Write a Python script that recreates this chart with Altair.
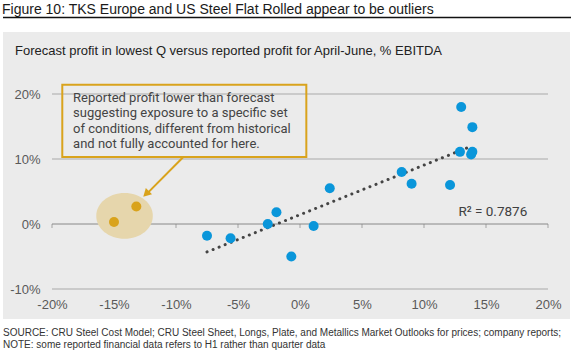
import altair as alt
import pandas as pd

# ---- data (percent units) ----
blue_x = [-7.5, -5.6, -2.6, -1.9, -0.7, 1.1, 2.4, 8.2, 9.0, 12.1, 12.9, 13.0, 13.8, 13.9, 13.9]
blue_y = [-1.8, -2.2, 0.0, 1.8, -5.0, -0.3, 5.5, 8.0, 6.2, 6.0, 11.1, 18.0, 10.7, 11.1, 14.9]
gold_x = [-15.0, -13.2]
gold_y = [0.3, 2.7]
x_ticks = [-20, -15, -10, -5, 0, 5, 10, 15, 20]
y_ticks = [-10, 0, 10, 20]
grid_y = [-10, 10, 20]

title = "Figure 10: TKS Europe and US Steel Flat Rolled appear to be outliers"
subtitle = "Forecast profit in lowest Q versus reported profit for April-June, % EBITDA"
source_lines = [
    "SOURCE: CRU Steel Cost Model; CRU Steel Sheet, Longs, Plate, and Metallics Market Outlooks for prices; company reports;",
    "NOTE: some reported financial data refers to H1 rather than quarter data",
]
note_lines = [
    "Reported profit lower than forecast",
    "suggesting exposure to a specific set",
    "of conditions, different from historical",
    "and not fully accounted for here.",
]
r2_text = "R\u00b2 = 0.7876"

BLUE = "#0A96DA"
GOLD = "#D9A31C"
ELLIPSE = "#E6D6AC"
GRID = "#A9A9A9"

W, H = 496, 195
one = pd.DataFrame({"a": [0]})
blue = pd.DataFrame({"x": blue_x, "y": blue_y})
gold = pd.DataFrame({"x": gold_x, "y": gold_y})

xs = alt.Scale(domain=[-20, 20], nice=False, zero=False)
ys = alt.Scale(domain=[-10, 20], nice=False, zero=False)

# background panel
panel = alt.Chart(one).mark_rect(color="#EBEBEB").encode(
    x=alt.value(-49), x2=alt.value(518), y=alt.value(-62), y2=alt.value(225)
)

# header/footer texts
title_t = alt.Chart(one).mark_text(
    text=title, align="left", baseline="alphabetic", font="Liberation Sans",
    fontSize=14, color="#1A1A1A"
).encode(x=alt.value(-50), y=alt.value(-80.5))
underline = alt.Chart(one).mark_rule(color="#111111", strokeWidth=1.5).encode(
    x=alt.value(-49), x2=alt.value(519), y=alt.value(-76.5)
)
subtitle_t = alt.Chart(one).mark_text(
    text=subtitle, align="left", baseline="alphabetic", font="Liberation Sans",
    fontSize=13, color="#222222"
).encode(x=alt.value(-37), y=alt.value(-39))
src1 = alt.Chart(one).mark_text(
    text=source_lines[0], align="left", baseline="alphabetic", font="Liberation Sans",
    fontSize=10, color="#333333"
).encode(x=alt.value(-49), y=alt.value(241.5))
src2 = alt.Chart(one).mark_text(
    text=source_lines[1], align="left", baseline="alphabetic", font="Liberation Sans",
    fontSize=10, color="#333333"
).encode(x=alt.value(-49), y=alt.value(253.5))

# axes (labels only), drawn above the panel
axes = alt.Chart(one).mark_point(opacity=0).encode(
    x=alt.X("xx:Q", scale=xs, title=None,
            axis=alt.Axis(values=x_ticks, labelExpr="datum.value + '%'", domain=False,
                          ticks=False, grid=False, labelFont="Liberation Sans",
                          labelFontSize=13, labelColor="#595959", labelPadding=9,
                          labelFlush=False, labelOverlap=False, zindex=1)),
    y=alt.Y("yy:Q", scale=ys, title=None,
            axis=alt.Axis(values=y_ticks, labelExpr="datum.value + '%'", domain=False,
                          ticks=False, grid=False, labelFont="Liberation Sans",
                          labelFontSize=13, labelColor="#595959", labelPadding=12,
                          labelFlush=False, labelOverlap=False, zindex=1)),
).transform_calculate(xx="0", yy="0")

# gridlines
grid = alt.Chart(pd.DataFrame({"y": grid_y})).mark_rule(color=GRID, strokeWidth=1).encode(
    y=alt.Y("y:Q", scale=ys), x=alt.datum(-20, scale=xs), x2=alt.datum(20)
)
zero = alt.Chart(one).mark_rule(color="#888888", strokeWidth=1).encode(
    y=alt.datum(0, scale=ys), x=alt.datum(-20, scale=xs), x2=alt.datum(20)
)
ticks = alt.Chart(pd.DataFrame({"x": x_ticks})).mark_tick(
    orient="vertical", size=4, thickness=1, yOffset=2, color="#888888"
).encode(x=alt.X("x:Q", scale=xs), y=alt.datum(0, scale=ys))

# ellipse around outliers
ellipse = alt.Chart(one).mark_point(
    shape="M-1,0 A1,0.806 0 1,0 1,0 A1,0.806 0 1,0 -1,0 Z",
    filled=True, color=ELLIPSE, opacity=1, size=3204
).encode(x=alt.datum(-14.15, scale=xs), y=alt.datum(1.25, scale=ys))

# trend line
trend = alt.Chart(blue).transform_regression("x", "y").mark_line(
    color="#444444", strokeWidth=3, strokeDash=[0.1, 6.4], strokeCap="round"
).encode(x=alt.X("x:Q", scale=xs), y=alt.Y("y:Q", scale=ys))

blue_pts = alt.Chart(blue).mark_circle(color=BLUE, opacity=1, size=100).encode(
    x=alt.X("x:Q", scale=xs), y=alt.Y("y:Q", scale=ys)
)
gold_pts = alt.Chart(gold).mark_circle(color=GOLD, opacity=1, size=100).encode(
    x=alt.X("x:Q", scale=xs), y=alt.Y("y:Q", scale=ys)
)

# annotation box, text, arrow
box = alt.Chart(one).mark_rect(
    fillOpacity=0, stroke=GOLD, strokeWidth=2
).encode(
    x=alt.datum(-19.17, scale=xs), x2=alt.datum(0.51),
    y=alt.datum(21.43, scale=ys), y2=alt.datum(10.31)
)
note = alt.Chart(one).mark_text(
    text=note_lines, align="left", baseline="middle", font="Roboto",
    fontSize=13, lineHeight=15.3, color="#444444"
).encode(x=alt.datum(-18.3, scale=xs), y=alt.datum(19.38, scale=ys))
arrow_line = alt.Chart(one).mark_rule(color=GOLD, strokeWidth=2).encode(
    x=alt.datum(-9.41, scale=xs), x2=alt.datum(-12.3),
    y=alt.datum(10.3, scale=ys), y2=alt.datum(4.75)
)
arrow_head = alt.Chart(one).mark_point(
    shape="M0,0 L-0.55,1 L0.55,1 Z", filled=True, color=GOLD, opacity=1,
    size=256, angle=225
).encode(x=alt.datum(-12.64, scale=xs), y=alt.datum(4.2, scale=ys))

r2 = alt.Chart(one).mark_text(
    text=r2_text, align="center", baseline="middle", font="Roboto",
    fontSize=13.5, color="#404040"
).encode(x=alt.datum(15.55, scale=xs), y=alt.datum(1.85, scale=ys))

chart = alt.layer(
    axes, panel, title_t, underline, subtitle_t, src1, src2,
    grid, zero, ticks, ellipse, trend, blue_pts, gold_pts,
    box, note, arrow_line, arrow_head, r2
).properties(
    width=W, height=H,
    autosize=alt.AutoSizeParams(type="none"),
    padding={"left": 52, "top": 94, "right": 23, "bottom": 65},
    background="white",
).configure_view(stroke=None, fill=None)

chart.save("out.html", embed_options={"renderer": "svg", "actions": False})
